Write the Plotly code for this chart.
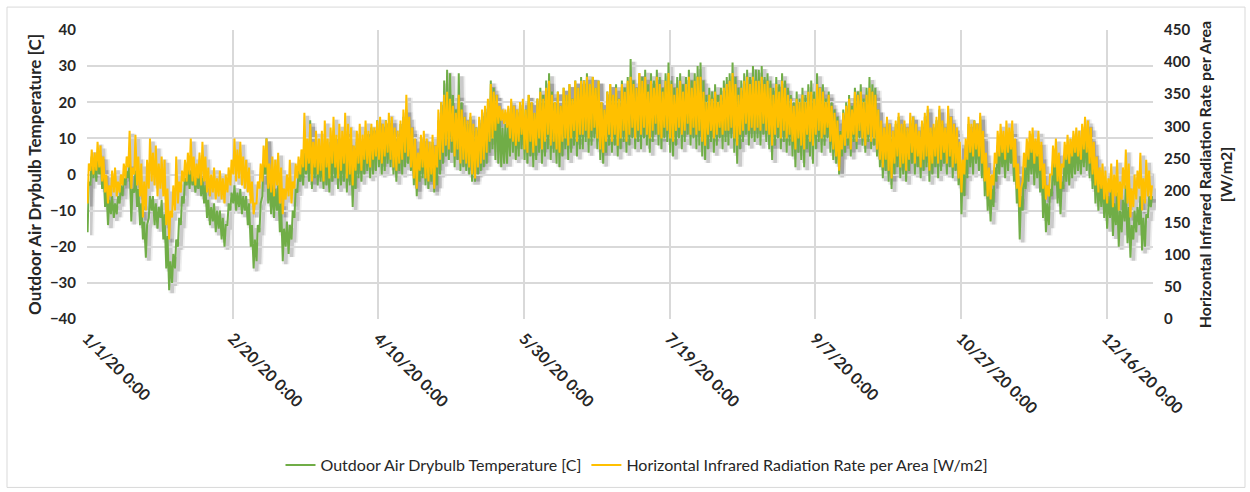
import pandas as pd
import plotly.graph_objects as go

# Daily extremes, 1 Jan 2020 .. 31 Dec 2020 (366 days)
temp_min = [
    -16, -3, -1, -2, 0, -4, -9, -14, -11, -12,
    -11, -8, -6, -3, -1, -13, -5, -9, -14, -18,
    -23, -12, -10, -14, -15, -12, -18, -26, -32, -30,
    -26, -20, -14, -8, -3, -4, -3, -5, -4, -6,
    -8, -12, -14, -13, -16, -15, -18, -20, -14, -10,
    -8, -10, -9, -11, -10, -14, -20, -26, -24, -16,
    -6, 0, -8, -11, -12, -10, -16, -24, -20, -22,
    -18, -12, -5, -2, -3, 0, -2, -4, -1, -3,
    -2, -4, -3, -5, -2, -1, -4, -3, -2, -5,
    -3, -9, -4, -1, -2, 0, 1, -1, 0, 1,
    2, 0, 1, 3, 2, 0, -2, 1, 0, 2,
    3, 1, -3, -6, -2, -1, -3, -4, -2, -5,
    -3, 0, 3, 5, 4, 6, 2, 4, 1, 2,
    1, 0, -2, -2, 0, 1, 2, 3, 6, 7,
    4, 3, 2, 3, 3, 5, 6, 4, 5, 7,
    4, 3, 5, 2, 4, 6, 3, 5, 7, 4,
    6, 3, 2, 5, 7, 4, 6, 8, 5, 7,
    7, 9, 6, 8, 10, 7, 4, 3, 6, 8,
    6, 8, 5, 7, 9, 6, 8, 10, 7, 9,
    7, 10, 8, 6, 9, 11, 8, 7, 10, 9,
    6, 5, 8, 10, 7, 9, 11, 8, 10, 7,
    8, 5, 4, 7, 9, 6, 8, 10, 7, 9,
    8, 10, 6, 3, 7, 9, 11, 8, 10, 9,
    10, 8, 11, 9, 7, 4, 8, 10, 7, 9,
    6, 8, 5, 2, 6, 4, 2, 7, 5, 3,
    7, 9, 6, 8, 10, 6, 4, 3, 0, 5,
    6, 8, 5, 9, 7, 10, 8, 6, 9, 7,
    8, 5, 2, -1, 1, -2, -4, 0, 2, -1,
    0, -2, 1, 3, 0, 2, -1, 1, 2, -2,
    0, 2, -1, 1, 3, 0, 2, -1, 1, -3,
    -11, -6, -1, 2, 0, 3, 1, -1, -6, -10,
    -13, -9, -2, 0, 2, -1, 1, 3, -2, -8,
    -18, -10, -4, -2, 0, -3, -1, -5, -12, -16,
    -14, -6, -3, -8, -11, -4, -2, -3, -1, 0,
    1, 0, 2, 1, -1, -4, -8, -10, -9, -12,
    -15, -12, -17, -14, -20, -16, -13, -19, -23, -18,
    -16, -14, -21, -20, -12, -9,
]
temp_max = [
    -2, 5, 4, 6, 5, 2, -3, -7, -6, -8,
    -6, -3, -1, 1, 3, -4, 1, -4, -8, -13,
    -14, -6, -6, -8, -9, -7, -11, -17, -24, -22,
    -18, -12, -6, -1, 2, 1, 0, -1, 1, -1,
    -3, -7, -9, -8, -10, -10, -12, -14, -8, -5,
    -3, -5, -4, -6, -6, -8, -14, -18, -14, -8,
    4, 10, -1, -3, -4, -3, -8, -15, -13, -14,
    -10, -4, 1, 4, 6, 8, 15, 6, 8, 5,
    6, 8, 5, 9, 11, 7, 10, 8, 12, 9,
    8, 2, 9, 10, 8, 12, 11, 13, 12, 15,
    14, 13, 15, 14, 15, 12, 10, 14, 16, 18,
    14, 12, 8, 4, 9, 10, 8, 7, 9, 6,
    15, 20, 26, 29, 28, 22, 18, 28, 20, 16,
    14, 16, 12, 13, 15, 17, 18, 20, 26, 24,
    22, 16, 13, 14, 15, 20, 18, 16, 19, 20,
    18, 22, 20, 17, 21, 24, 22, 26, 28, 23,
    20, 23, 19, 24, 22, 25, 21, 26, 24, 27,
    26, 28, 25, 27, 24, 26, 20, 18, 23, 25,
    22, 25, 21, 26, 24, 27, 32, 26, 24, 28,
    27, 29, 25, 28, 26, 29, 27, 24, 28, 31,
    26, 24, 27, 28, 25, 27, 29, 26, 28, 30,
    31, 26, 22, 24, 23, 25, 22, 24, 26, 27,
    28, 31, 27, 24, 26, 28, 29, 27, 30, 29,
    29, 30, 27, 28, 26, 24, 27, 25, 28, 26,
    24, 22, 20, 23, 21, 24, 22, 25, 26, 23,
    28, 24, 25, 21, 23, 20, 18, 16, 12, 18,
    20, 22, 19, 24, 23, 25, 21, 24, 27, 25,
    24, 18, 14, 12, 15, 13, 11, 14, 16, 13,
    14, 12, 15, 16, 13, 11, 14, 16, 18, 12,
    13, 15, 18, 14, 12, 17, 15, 13, 12, 8,
    2, 8, 14, 12, 15, 13, 16, 10, 4, -2,
    -4, 2, 8, 10, 9, 11, 10, 12, 6, 0,
    -6, 2, 6, 8, 10, 7, 9, 5, -2, -8,
    -4, 4, 6, 1, -2, 5, 7, 6, 8, 9,
    9, 10, 12, 14, 10, 6, 2, -2, -1, -3,
    -6, -4, -8, -5, -10, -7, -3, -9, -14, -10,
    -9, -6, -12, -11, -6, -6,
]
ir_min = [
    180, 231, 225, 231, 236, 214, 197, 180, 191, 197,
    191, 197, 208, 219, 236, 203, 225, 208, 191, 158,
    169, 203, 214, 208, 191, 203, 191, 146, 124, 158,
    169, 180, 197, 214, 214, 225, 214, 208, 219, 208,
    214, 197, 191, 197, 186, 191, 186, 180, 197, 208,
    225, 214, 219, 208, 203, 197, 180, 163, 180, 203,
    214, 236, 203, 197, 191, 208, 180, 163, 186, 191,
    180, 203, 219, 225, 236, 231, 242, 214, 236, 225,
    231, 214, 236, 219, 242, 236, 219, 231, 242, 219,
    225, 208, 231, 242, 231, 248, 242, 236, 248, 253,
    248, 242, 253, 259, 248, 236, 231, 242, 248, 259,
    253, 236, 219, 203, 231, 236, 219, 214, 225, 203,
    236, 248, 259, 270, 264, 276, 253, 264, 242, 248,
    242, 236, 225, 219, 236, 242, 248, 259, 276, 281,
    293, 304, 309, 304, 298, 281, 276, 270, 276, 287,
    264, 259, 276, 259, 270, 281, 264, 276, 287, 270,
    276, 264, 259, 276, 281, 270, 281, 293, 276, 287,
    287, 293, 281, 293, 298, 281, 264, 259, 276, 287,
    276, 287, 270, 281, 293, 276, 287, 298, 281, 293,
    287, 298, 287, 281, 293, 304, 287, 281, 298, 293,
    281, 276, 293, 298, 287, 293, 304, 287, 298, 287,
    293, 276, 270, 287, 293, 281, 287, 298, 287, 293,
    293, 298, 281, 270, 287, 293, 304, 293, 298, 293,
    298, 293, 304, 293, 287, 270, 287, 298, 281, 293,
    281, 287, 276, 264, 281, 270, 264, 287, 276, 270,
    287, 293, 281, 287, 298, 276, 264, 253, 231, 264,
    270, 281, 264, 287, 276, 293, 281, 270, 287, 276,
    281, 264, 248, 236, 248, 231, 219, 242, 253, 236,
    242, 231, 248, 259, 242, 253, 236, 248, 253, 231,
    242, 253, 242, 248, 259, 242, 253, 236, 242, 219,
    197, 225, 248, 259, 253, 264, 253, 242, 214, 191,
    186, 208, 242, 253, 259, 248, 259, 264, 236, 203,
    174, 214, 236, 248, 259, 242, 253, 231, 203, 186,
    191, 225, 236, 214, 203, 236, 248, 242, 253, 259,
    253, 248, 264, 259, 242, 225, 208, 197, 203, 186,
    180, 197, 174, 191, 169, 186, 203, 180, 158, 174,
    186, 203, 169, 180, 191, 186,
]
ir_max = [
    242, 264, 259, 276, 270, 253, 225, 208, 231, 236,
    214, 225, 242, 253, 293, 236, 287, 253, 242, 214,
    248, 281, 259, 270, 242, 253, 248, 203, 169, 208,
    253, 214, 231, 248, 259, 281, 253, 242, 259, 276,
    253, 236, 225, 236, 219, 231, 219, 225, 236, 248,
    281, 264, 276, 253, 248, 236, 214, 180, 214, 242,
    270, 281, 242, 253, 248, 259, 236, 203, 225, 248,
    214, 242, 253, 264, 321, 281, 304, 276, 293, 281,
    293, 309, 281, 298, 315, 287, 304, 293, 321, 304,
    298, 270, 293, 304, 287, 309, 293, 304, 298, 309,
    315, 304, 309, 321, 315, 298, 293, 309, 326, 349,
    315, 298, 281, 259, 287, 293, 281, 276, 287, 270,
    326, 338, 349, 354, 343, 332, 321, 349, 326, 315,
    309, 321, 304, 298, 315, 326, 332, 343, 366, 354,
    349, 332, 326, 326, 332, 343, 332, 326, 338, 343,
    326, 349, 338, 321, 343, 354, 343, 360, 371, 349,
    338, 354, 332, 360, 349, 366, 343, 371, 360, 371,
    371, 377, 366, 377, 360, 371, 338, 326, 354, 366,
    349, 360, 343, 366, 354, 371, 377, 366, 360, 383,
    371, 377, 354, 371, 360, 377, 366, 354, 371, 383,
    366, 349, 360, 371, 354, 366, 377, 360, 371, 377,
    377, 354, 338, 349, 343, 354, 338, 349, 360, 366,
    371, 383, 366, 349, 360, 371, 377, 366, 377, 371,
    371, 377, 366, 371, 360, 349, 366, 354, 371, 360,
    349, 343, 332, 343, 338, 349, 338, 354, 354, 343,
    366, 360, 354, 338, 349, 332, 321, 309, 287, 321,
    332, 343, 326, 354, 349, 354, 338, 349, 360, 354,
    349, 326, 309, 298, 315, 304, 293, 309, 321, 304,
    309, 298, 321, 315, 304, 293, 309, 321, 332, 298,
    304, 315, 332, 309, 298, 332, 315, 304, 298, 276,
    248, 281, 315, 304, 309, 304, 321, 293, 259, 236,
    225, 259, 293, 304, 293, 309, 298, 309, 281, 242,
    203, 259, 281, 293, 298, 281, 293, 276, 242, 208,
    225, 270, 281, 259, 242, 276, 287, 281, 293, 298,
    293, 304, 315, 309, 298, 276, 253, 236, 242, 231,
    219, 242, 225, 248, 214, 236, 264, 242, 203, 225,
    231, 259, 219, 248, 231, 208,
]

tick_labels = ["1/1/20 0:00", "2/20/20 0:00", "4/10/20 0:00", "5/30/20 0:00",
               "7/19/20 0:00", "9/7/20 0:00", "10/27/20 0:00", "12/16/20 0:00"]
tick_dates = pd.date_range("2020-01-01", periods=len(tick_labels), freq="50D")

temp_name = "Outdoor Air Drybulb Temperature [C]"
ir_name = "Horizontal Infrared Radiation Rate per Area [W/m2]"

# one low (early morning) and one high (afternoon) sample per day
days = pd.date_range("2020-01-01", periods=len(temp_min), freq="D")
times, temp, ir = [], [], []
for d, tlo, thi, rlo, rhi in zip(days, temp_min, temp_max, ir_min, ir_max):
    times += [d + pd.Timedelta(hours=5), d + pd.Timedelta(hours=15)]
    temp += [tlo, thi]
    ir += [rlo, rhi]

GREEN = "#70AD47"
GOLD = "#FFC000"
FONT = "Lato"
TXT = "#262626"

W, H = 1250, 492
L, T = 87, 30
PW, PH = 1066, 290      # visible plot box
DX, DY = 3, 3           # drop-shadow offset in px
AW, AH = PW + DX, PH + DY

x_main = [0, PW / AW]
x_shad = [DX / AW, 1]
y_main = [DY / AH, 1]
y_shad = [0, PH / AH]

x_range = [pd.Timestamp("2020-01-01 00:00"), pd.Timestamp("2020-12-31 23:00")]

fig = go.Figure()

# soft drop shadows (drawn first, on the offset axes)
for width, alpha in [(7, 0.08), (3.5, 0.18)]:
    sc = f"rgba(40,40,40,{alpha})"
    fig.add_trace(go.Scatter(x=times, y=temp, mode="lines", xaxis="x", yaxis="y",
                             line=dict(color=sc, width=width, simplify=False),
                             showlegend=False, hoverinfo="skip"))
    fig.add_trace(go.Scatter(x=times, y=ir, mode="lines", xaxis="x", yaxis="y2",
                             line=dict(color=sc, width=width, simplify=False),
                             showlegend=False, hoverinfo="skip"))

fig.add_trace(go.Scatter(x=times, y=temp, mode="lines", name=temp_name,
                         xaxis="x2", yaxis="y3",
                         line=dict(color=GREEN, width=2, simplify=False)))
fig.add_trace(go.Scatter(x=times, y=ir, mode="lines", name=ir_name,
                         xaxis="x2", yaxis="y4",
                         line=dict(color=GOLD, width=2, simplify=False)))

hidden = dict(visible=False, showgrid=False, zeroline=False, fixedrange=True)
bold = dict(family=FONT, weight="bold", color=TXT)

fig.update_layout(
    width=W, height=H,
    margin=dict(l=L, r=W - L - AW, t=T, b=H - T - AH, pad=0),
    paper_bgcolor="white", plot_bgcolor="rgba(0,0,0,0)",
    font=dict(family=FONT, color=TXT),
    xaxis=dict(domain=x_shad, anchor="y", range=x_range, type="date", **hidden),
    yaxis=dict(domain=y_shad, anchor="x", range=[-40, 40], **hidden),
    yaxis2=dict(overlaying="y", anchor="x", range=[0, 450], **hidden),
    xaxis2=dict(domain=x_main, anchor="y3", range=x_range, type="date",
                tickmode="array", tickvals=tick_dates, ticktext=tick_labels,
                tickangle=45, showgrid=True, gridcolor="#d9d9d9", gridwidth=1.5,
                zeroline=False, showline=False, ticks="",
                ticklabelstandoff=6, tickfont=dict(size=16, **bold)),
    yaxis3=dict(domain=y_main, anchor="x2", range=[-40, 40], dtick=10,
                showgrid=True, gridcolor="#d9d9d9", gridwidth=1.5,
                zeroline=False, showline=False, ticks="", ticklabelstandoff=10,
                tickfont=dict(size=15, **bold),
                title=dict(text=temp_name, standoff=3, font=dict(size=17, **bold))),
    yaxis4=dict(overlaying="y3", anchor="x2", side="right", range=[0, 450], dtick=50,
                showgrid=False, zeroline=False, showline=False, ticks="",
                ticklabelstandoff=10, tickfont=dict(size=15, **bold),
                title=dict(text="Horizontal Infrared Radiation Rate per Area<br>[W/m2]",
                           standoff=10, font=dict(size=16, **bold))),
    legend=dict(orientation="h", x=(637 - L) / AW, xanchor="center",
                y=(PH + DY - (465 - T)) / AH, yanchor="middle",
                font=dict(family=FONT, size=16, color=TXT),
                bgcolor="rgba(0,0,0,0)"),
    shapes=[dict(type="rect", xref="paper", yref="paper",
                 x0=(7 - L) / AW, x1=(1245 - L) / AW,
                 y0=(T + AH - 489) / AH, y1=(T + AH - 7) / AH,
                 line=dict(color="#d9d9d9", width=1), layer="below")],
)

fig.write_html("out.html")
